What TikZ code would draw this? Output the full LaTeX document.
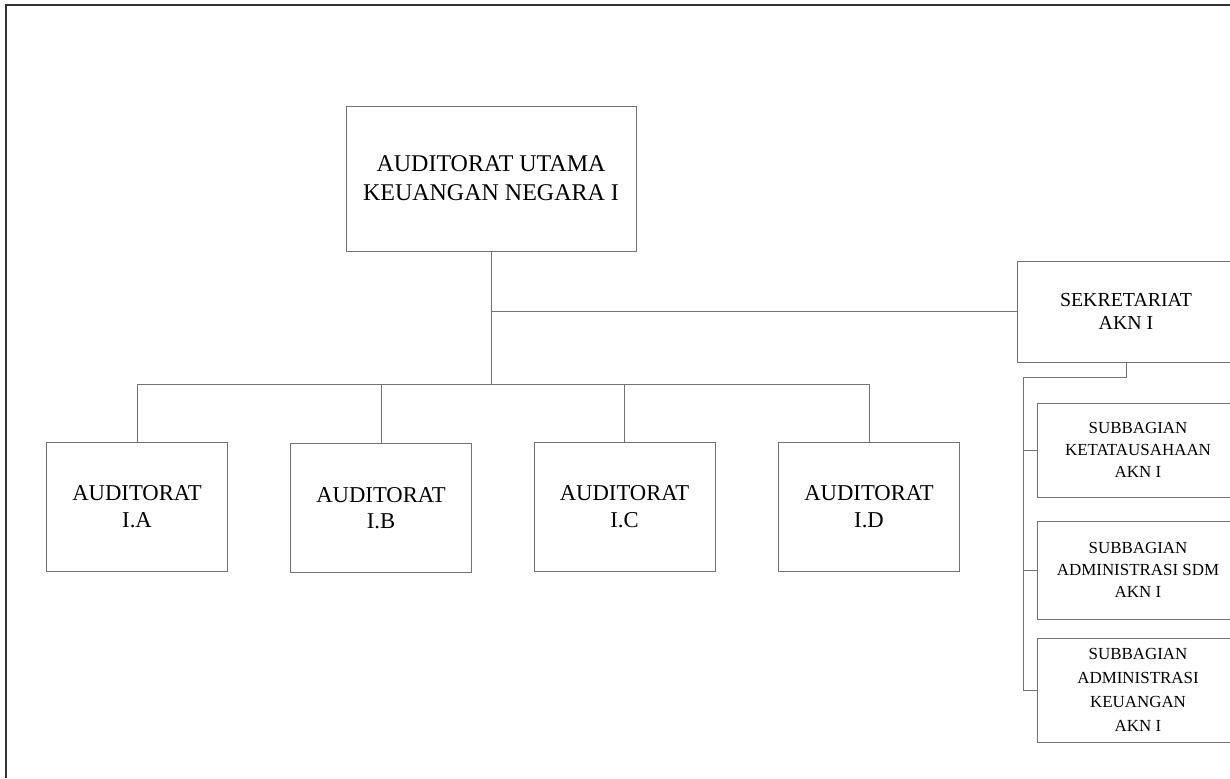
\documentclass[tikz,border=0pt]{standalone}
\usepackage{fontspec}
\setmainfont{Liberation Serif}
\usepackage{tikz}

\tikzset{
  box/.style={draw=black!55, line width=0.7pt, align=center, inner sep=0pt},
  unit/.style={box, minimum width=135.75pt, minimum height=96.75pt, font=\fontsize{17}{20}\selectfont},
  sekbox/.style={box, minimum width=163.5pt, minimum height=75.75pt, font=\fontsize{14.9}{17.25}\selectfont},
  subbox/.style={box, minimum width=151.5pt, font=\fontsize{12.7}{16.3}\selectfont},
  link/.style={draw=black!55, line width=0.7pt},
  frame/.style={draw=black!80, line width=1.5pt}
}

\begin{document}
\begin{tikzpicture}[x=0.75pt, y=-0.75pt]

\useasboundingbox (0, 0) rectangle (1230, 778);
\draw[frame] (6, 778) -- (6, 5) -- (1230, 5);

\node (top) at (491, 178.5) [box, minimum width=217.5pt, minimum height=108.75pt, font=\fontsize{18}{21.75}\selectfont] {AUDITORAT UTAMA\\KEUANGAN NEGARA I};
\node (sek) at (1126, 311.5) [sekbox] {SEKRETARIAT\\AKN I};

\node (ia) at (137, 506.5) [unit] {AUDITORAT\\I.A};
\node (ib) at (381, 508) [unit] {AUDITORAT\\I.B};
\node (ic) at (624.5, 506.5) [unit] {AUDITORAT\\I.C};
\node (id) at (869, 506.5) [unit] {AUDITORAT\\I.D};

\node (sa) at (1138, 450) [subbox, minimum height=70.5pt] {SUBBAGIAN\\KETATAUSAHAAN\\AKN I};
\node (sb) at (1138, 570) [subbox, minimum height=73.5pt] {SUBBAGIAN\\ADMINISTRASI SDM\\AKN I};
\node (sc) at (1138, 690) [subbox, minimum height=78pt, font=\fontsize{12.7}{18}\selectfont] {SUBBAGIAN\\ADMINISTRASI\\KEUANGAN\\AKN I};

\coordinate (bus) at (491, 384);
\coordinate (sekbus) at (1023, 377);

\draw[link] (top.south) -- (bus);
\draw[link] (top.south |- sek.west) -- (sek.west);
\draw[link] (ia.north) -- (ia.north |- bus) -- (id.north |- bus) -- (id.north);
\draw[link] (ib.north) -- (ib.north |- bus);
\draw[link] (ic.north) -- (ic.north |- bus);

\draw[link] (sek.south) -- (sek.south |- sekbus) -- (sekbus) -- (sekbus |- sc.west) -- (sc.west);
\draw[link] (sekbus |- sa.west) -- (sa.west);
\draw[link] (sekbus |- sb.west) -- (sb.west);
\end{tikzpicture}
\end{document}
